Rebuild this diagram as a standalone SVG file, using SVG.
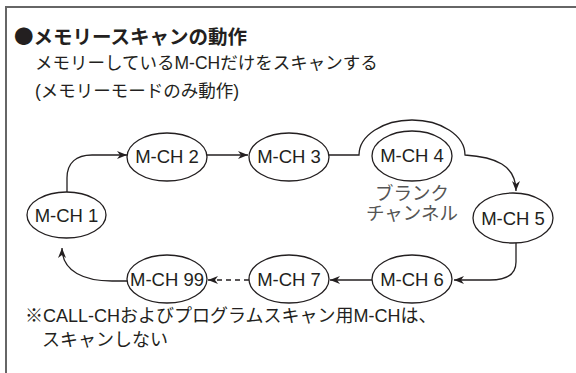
<svg xmlns="http://www.w3.org/2000/svg" width="576" height="373" viewBox="0 0 576 373">
<style>
text{font-family:"Liberation Sans","Noto Sans CJK JP",sans-serif;fill:#231f20}
.title{font-family:"Noto Sans CJK JP",sans-serif;font-size:19.5px;font-weight:bold}
.body{font-size:17.5px}
.foot{font-size:18px}
.node ellipse{fill:#fff;stroke:#231f20;stroke-width:1.3}
.node text{font-size:18.5px;text-anchor:middle}
.sub{font-size:15px;fill:#555;text-anchor:middle}
.conn path{fill:none;stroke:#231f20;stroke-width:1.3}
.dash{stroke-dasharray:5 4}
</style>
<defs>
<marker id="ah" markerWidth="11" markerHeight="9" refX="10" refY="4" orient="auto" markerUnits="userSpaceOnUse">
<path d="M0,0 L10,4 L0,8 L3,4 z" fill="#231f20"/>
</marker>
</defs>
<rect width="576" height="373" fill="#fff"/>
<path d="M6,373 V7 H576" fill="none" stroke="#666" stroke-width="2"/>
<text class="title" x="14" y="44">●メモリースキャンの動作</text>
<text class="body" x="35" y="69">メモリーしているM-CHだけをスキャンする</text>
<text class="body" x="35" y="97">(メモリーモードのみ動作)</text>
<text class="foot" x="25" y="322">※CALL-CHおよびプログラムスキャン用M-CHは、</text>
<text class="foot" x="42" y="346">スキャンしない</text>
<g class="conn">
<path d="M67,192 L67,178 C67,163 76,155 92,155 L127,155" marker-end="url(#ah)"/>
<path d="M207,155 L248,155" marker-end="url(#ah)"/>
<path d="M329,155 L359,155 A53,35 0 0 1 465,155 C495,157 516,165 516,191" marker-end="url(#ah)"/>
<path d="M516,243 L516,262 C516,275 506,280 490,280 L454,280" marker-end="url(#ah)"/>
<path d="M372,280 L330,280" marker-end="url(#ah)"/>
<path class="dash" d="M249,280 L208,280" marker-end="url(#ah)"/>
<path d="M127,281 L112,281 C85,281 62,272 62,248" marker-end="url(#ah)"/>
</g>
<g id="n1" class="node"><ellipse cx="66.5" cy="215" rx="39.5" ry="23"/><text x="66.5" y="222">M-CH 1</text></g>
<g id="n2" class="node"><ellipse cx="167" cy="157" rx="40" ry="24"/><text x="167" y="163">M-CH 2</text></g>
<g id="n3" class="node"><ellipse cx="289" cy="157" rx="40" ry="24"/><text x="289" y="163">M-CH 3</text></g>
<g id="n4" class="node"><ellipse cx="412" cy="156" rx="40" ry="25"/><text x="412" y="162">M-CH 4</text>
<text class="sub" x="412" y="200">ブランク</text><text class="sub" x="412" y="220">チャンネル</text></g>
<g id="n5" class="node"><ellipse cx="513" cy="218" rx="40" ry="25"/><text x="513" y="225">M-CH 5</text></g>
<g id="n6" class="node"><ellipse cx="412" cy="279" rx="40" ry="24"/><text x="412" y="286">M-CH 6</text></g>
<g id="n7" class="node"><ellipse cx="289" cy="279" rx="40" ry="24"/><text x="289" y="286">M-CH 7</text></g>
<g id="n99" class="node"><ellipse cx="167" cy="279" rx="40" ry="24"/><text x="167" y="286">M-CH 99</text></g>
</svg>
